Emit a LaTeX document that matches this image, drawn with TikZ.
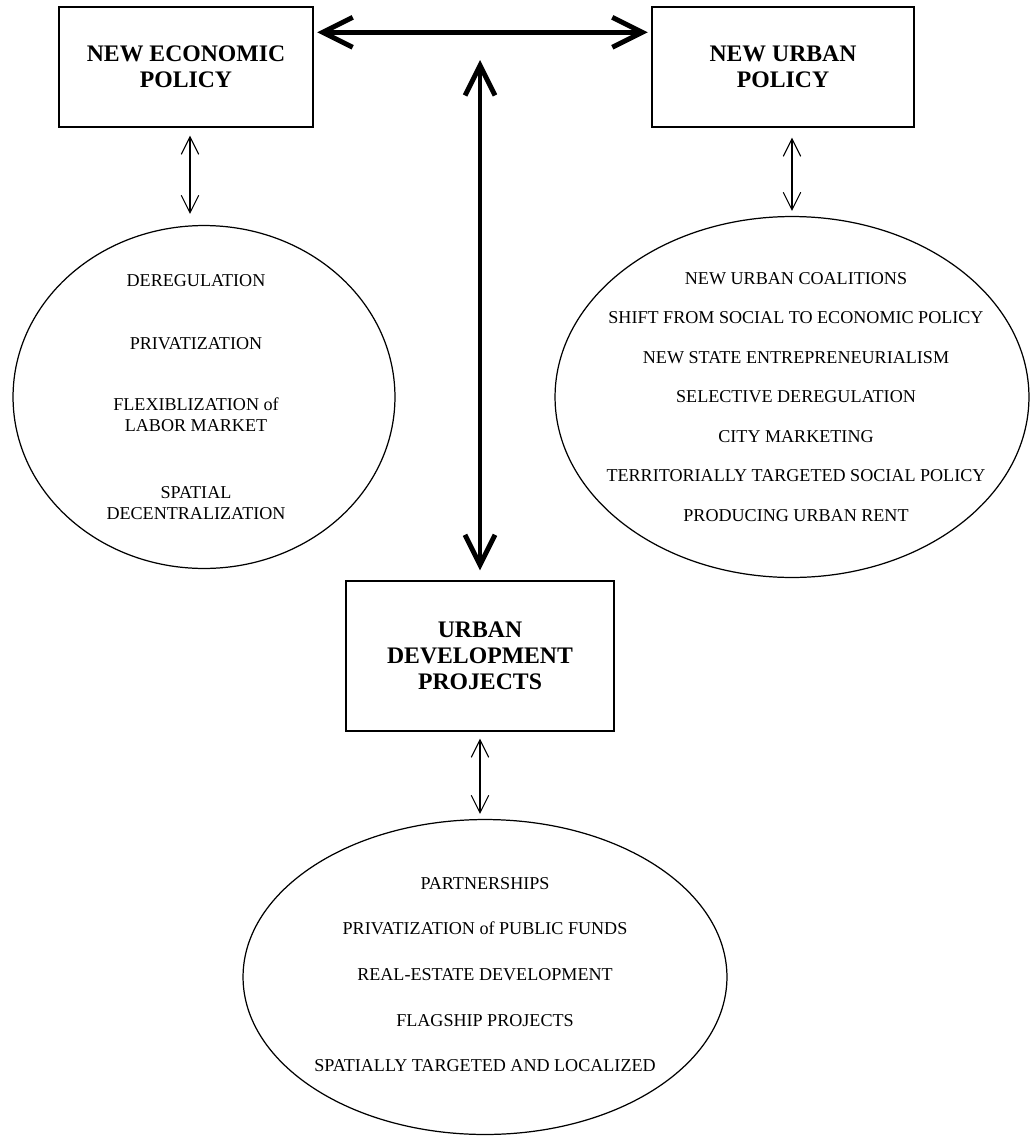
\documentclass[tikz,border=0pt]{standalone}
\usepackage{fontspec}
\setmainfont{Liberation Serif}
\usetikzlibrary{arrows.meta,positioning,shapes.geometric}

\begin{document}
\begin{tikzpicture}[x=0.02cm,y=-0.02cm,every node/.append style={align=center},policy/.style={rectangle,draw,line width=0.8pt,font=\fontsize{13.5}{14.8}\selectfont\bfseries},field/.style={ellipse,draw,line width=0.7pt,inner sep=0pt},items/.style={inner sep=0pt,font=\fontsize{10.3}{12}\selectfont},
  link/.style={{Straight Barb[length=3.5mm,width=3.5mm]}-{Straight Barb[length=3.5mm,width=3.5mm]},line width=0.6pt},
  mainlink/.style={{Straight Barb[length=6mm,width=6mm]}-{Straight Barb[length=6mm,width=6mm]},line width=2.8pt}]
    \useasboundingbox (0,0) rectangle (1033,1136);
    \node [policy, minimum width=5.08cm, minimum height=2.4cm] (NEP) at (186,67) {NEW ECONOMIC\\POLICY};
    \node [policy, minimum width=5.24cm, minimum height=2.4cm] (NUP) at (783,67) {NEW URBAN\\POLICY};
    \node [policy, minimum width=5.36cm, minimum height=3cm] (UDP) at (480,656) {URBAN\\DEVELOPMENT\\PROJECTS};
    \node [field, minimum width=7.64cm, minimum height=6.86cm] (econ) at (204,397) {};
    \node [field, minimum width=9.48cm, minimum height=7.22cm] (urban) at (792,397) {};
    \node [field, minimum width=9.68cm, minimum height=6.3cm] (proj) at (485,977) {};
    \node [items] (econitems) at ([xshift=-0.16cm]econ.center) {DEREGULATION\\[24pt]PRIVATIZATION\\[23pt]FLEXIBLIZATION of\\LABOR MARKET\\[26pt]SPATIAL\\DECENTRALIZATION};
    \node [items] (urbanitems) at ([xshift=0.08cm]urban.center) {NEW URBAN COALITIONS\\[10.5pt]SHIFT FROM SOCIAL TO ECONOMIC POLICY\\[10.5pt]NEW STATE ENTREPRENEURIALISM\\[10.5pt]SELECTIVE DEREGULATION\\[10.5pt]CITY MARKETING\\[10.5pt]TERRITORIALLY TARGETED SOCIAL POLICY\\[10.5pt]PRODUCING URBAN RENT};
    \node [items] (projitems) at ([yshift=0.05cm]proj.center) {PARTNERSHIPS\\[14pt]PRIVATIZATION of PUBLIC FUNDS\\[14pt]REAL-ESTATE DEVELOPMENT\\[14pt]FLAGSHIP PROJECTS\\[14pt]SPATIALLY TARGETED AND LOCALIZED};
    \coordinate (vtop) at (480,60);
    \draw [mainlink, shorten <=2pt, shorten >=2pt] ([yshift=-0.52cm]NEP.north east) -- ([yshift=-0.52cm]NUP.north west);
    \draw [mainlink, shorten >=0.2cm] (vtop) -- (UDP.north);
    \draw [link, shorten <=0.16cm, shorten >=0.22cm] ([xshift=0.08cm]NEP.south) -- ([xshift=0.08cm]NEP.south |- econ.north);
    \draw [link, shorten <=0.2cm, shorten >=0.1cm] (NUP.south -| urban.north) -- (urban.north);
    \draw [link, shorten <=0.14cm, shorten >=0.1cm] (UDP.south) -- (UDP.south |- proj.north);
\end{tikzpicture}
\end{document}
